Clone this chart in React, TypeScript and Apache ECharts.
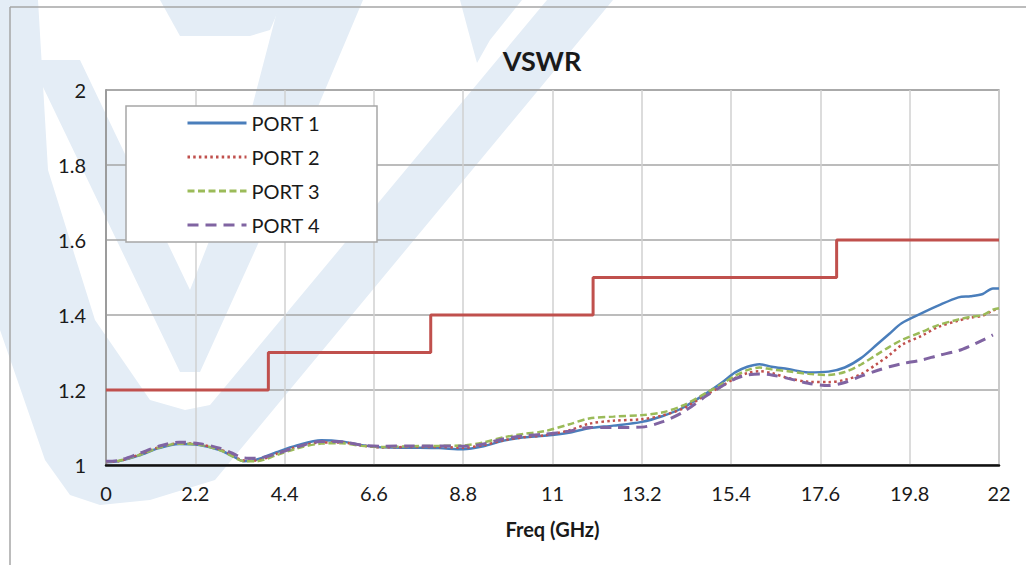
import React, { useEffect, useRef } from "react";
import * as echarts from "echarts";

// Frequency grid (GHz)
const freqs = [0, 0.3, 0.8, 1.3, 1.8, 2.3, 2.8, 3.1, 3.4, 3.7, 4.2, 4.7, 5.3, 5.8, 6.3, 6.8, 7.5, 8.2, 8.8, 9.3, 9.8, 10.3, 10.8, 11.4, 11.9, 12.5, 13.2, 13.7, 14.2, 14.8, 15.2, 15.5, 15.8, 16.1, 16.4, 16.8, 17.3, 17.8, 18.2, 18.6, 19.0, 19.3, 19.6, 20.1, 20.5, 21.0, 21.3, 21.6, 21.85, 22];

const port1 = [1.008, 1.010, 1.025, 1.045, 1.056, 1.053, 1.040, 1.025, 1.010, 1.014, 1.034, 1.052, 1.066, 1.063, 1.053, 1.047, 1.046, 1.045, 1.042, 1.050, 1.065, 1.074, 1.078, 1.086, 1.098, 1.105, 1.115, 1.130, 1.152, 1.192, 1.222, 1.247, 1.262, 1.269, 1.262, 1.256, 1.247, 1.249, 1.260, 1.285, 1.322, 1.350, 1.378, 1.405, 1.425, 1.447, 1.450, 1.456, 1.471, 1.471];
const port2 = [1.008, 1.010, 1.027, 1.047, 1.058, 1.055, 1.042, 1.027, 1.012, 1.012, 1.030, 1.048, 1.060, 1.060, 1.052, 1.047, 1.048, 1.048, 1.046, 1.053, 1.066, 1.074, 1.079, 1.092, 1.110, 1.118, 1.122, 1.132, 1.150, 1.188, 1.212, 1.232, 1.245, 1.250, 1.245, 1.232, 1.222, 1.221, 1.227, 1.242, 1.270, 1.293, 1.320, 1.345, 1.368, 1.385, 1.393, 1.398, 1.412, 1.417];
const port3 = [1.009, 1.011, 1.026, 1.046, 1.057, 1.054, 1.040, 1.024, 1.010, 1.010, 1.026, 1.044, 1.057, 1.058, 1.051, 1.048, 1.050, 1.051, 1.052, 1.060, 1.074, 1.083, 1.090, 1.108, 1.124, 1.129, 1.133, 1.140, 1.158, 1.193, 1.218, 1.238, 1.253, 1.260, 1.255, 1.250, 1.243, 1.240, 1.248, 1.268, 1.295, 1.315, 1.333, 1.355, 1.373, 1.388, 1.395, 1.400, 1.414, 1.418];
const port4 = [1.010, 1.012, 1.030, 1.050, 1.061, 1.057, 1.045, 1.032, 1.019, 1.018, 1.030, 1.048, 1.063, 1.062, 1.053, 1.050, 1.051, 1.051, 1.050, 1.056, 1.070, 1.078, 1.082, 1.090, 1.100, 1.100, 1.101, 1.115, 1.140, 1.185, 1.212, 1.230, 1.240, 1.243, 1.240, 1.231, 1.218, 1.212, 1.220, 1.237, 1.252, 1.262, 1.270, 1.280, 1.292, 1.305, 1.318, 1.333, 1.347, null];

// Specification limit (step)
const limitFreqs = [0, 4, 8, 12, 18, 22];
const limitValues = [1.2, 1.3, 1.4, 1.5, 1.6, 1.6];

const seriesNames = ["PORT 1", "PORT 2", "PORT 3", "PORT 4"];
const xTicks = { min: 0, max: 22, step: 2.2 };
const yTicks = { min: 1, max: 2, step: 0.2 };

const FONT = "Lato, 'Open Sans', sans-serif";

function pairs(xs: number[], ys: (number | null)[]) {
  return xs.map((x, i) => [x, ys[i]]);
}

export default function App() {
  const ref = useRef<HTMLDivElement>(null);
  useEffect(() => {
    if (!ref.current) return;
    const chart = echarts.init(ref.current, undefined, { renderer: "svg" });
    const fmt = (v: number) => String(+v.toFixed(1));
    const wm = "#E4EDF6";
    const wmPoly = (points: number[][]) => ({
      type: "polygon",
      z: -1,
      silent: true,
      shape: { points },
      style: { fill: wm },
    });
    const option: any = {
      animation: false,
      backgroundColor: "#fff",
      title: {
        text: "VSWR",
        left: 537,
        top: 42,
        textAlign: "center",
        textStyle: { fontFamily: FONT, fontSize: 27, fontWeight: "bold", color: "#1a1a1a" },
      },
      graphic: [
        wmPoly([[0, 0], [38, 0], [48, 170], [95, 320], [150, 400], [185, 410], [210, 405], [547, 0], [613, 0], [215, 480], [150, 500], [100, 505], [70, 495], [45, 460], [0, 330]]),
        wmPoly([[30, 60], [80, 60], [190, 290], [233, 180], [280, 0], [363, 0], [287, 180], [200, 372], [180, 372]]),
        wmPoly([[160, 0], [283, 0], [270, 30], [250, 36], [180, 36]]),
        wmPoly([[460, 0], [522, 0], [490, 40], [477, 63], [468, 30]]),
        {
          type: "line",
          z: 1,
          silent: true,
          shape: { x1: 10, y1: 7, x2: 1026, y2: 7 },
          style: { stroke: "#A6A6A6", lineWidth: 1.5 },
        },
        {
          type: "line",
          z: 1,
          silent: true,
          shape: { x1: 10, y1: 7, x2: 10, y2: 565 },
          style: { stroke: "#A6A6A6", lineWidth: 1.5 },
        },
        {
          type: "rect",
          z: 3,
          silent: true,
          shape: { x: 126, y: 106, width: 251, height: 136 },
          style: { fill: "#fff", stroke: "#A6A6A6", lineWidth: 1.5 },
        },
      ],
      legend: {
        data: seriesNames,
        orient: "vertical",
        left: 126,
        top: 106,
        padding: [7, 0, 7, 60],
        itemWidth: 59,
        itemHeight: 14,
        itemGap: 14,
        z: 5,
        itemStyle: { opacity: 0 },
        lineStyle: { width: 3 },
        textStyle: { fontFamily: FONT, fontSize: 20, lineHeight: 20, color: "#1a1a1a" },
      },
      grid: {
        left: 106,
        right: 27,
        top: 90,
        bottom: 100,
        show: true,
        borderColor: "#A0A0A0",
        borderWidth: 1.5,
        backgroundColor: "transparent",
      },
      xAxis: {
        type: "value",
        min: xTicks.min,
        max: xTicks.max,
        interval: xTicks.step,
        name: "Freq (GHz)",
        nameLocation: "middle",
        nameGap: 54,
        nameTextStyle: { fontFamily: FONT, fontSize: 20, fontWeight: "bold", color: "#1a1a1a" },
        axisLine: { show: true, onZero: false, lineStyle: { color: "#111", width: 2.5 } },
        axisTick: { show: false },
        axisLabel: { formatter: fmt, fontFamily: FONT, fontSize: 20, color: "#1a1a1a", margin: 18 },
        splitLine: { show: true, lineStyle: { color: "#D0D0D0", width: 1.5 } },
      },
      yAxis: {
        type: "value",
        min: yTicks.min,
        max: yTicks.max,
        interval: yTicks.step,
        axisLine: { show: true, lineStyle: { color: "#8C8C8C", width: 1.5 } },
        axisTick: { show: false },
        axisLabel: { formatter: fmt, fontFamily: FONT, fontSize: 20, color: "#1a1a1a", margin: 20 },
        splitLine: { show: true, lineStyle: { color: "#A6A6A6", width: 1.5 } },
      },
      series: [
        {
          name: "Limit",
          type: "line",
          step: "end",
          symbol: "none",
          data: pairs(limitFreqs, limitValues),
          lineStyle: { color: "#C0504D", width: 3 },
          itemStyle: { color: "#C0504D" },
          z: 2,
        },
        {
          name: seriesNames[0],
          type: "line",
          symbol: "none",
          smooth: 0.3,
          data: pairs(freqs, port1),
          lineStyle: { color: "#4A7EBB", width: 2.5 },
          itemStyle: { color: "#4A7EBB" },
        },
        {
          name: seriesNames[1],
          type: "line",
          symbol: "none",
          smooth: 0.3,
          data: pairs(freqs, port2),
          lineStyle: { color: "#C0504D", width: 2.5, type: [2.5, 3.2] },
          itemStyle: { color: "#C0504D" },
        },
        {
          name: seriesNames[2],
          type: "line",
          symbol: "none",
          smooth: 0.3,
          data: pairs(freqs, port3),
          lineStyle: { color: "#9BBB59", width: 2.5, type: [7, 3.5] },
          itemStyle: { color: "#9BBB59" },
        },
        {
          name: seriesNames[3],
          type: "line",
          symbol: "none",
          smooth: 0.3,
          connectNulls: false,
          data: pairs(freqs, port4),
          lineStyle: { color: "#8064A2", width: 3, type: [11, 7] },
          itemStyle: { color: "#8064A2" },
        },
      ],
    };
    chart.setOption(option);
    return () => chart.dispose();
  }, []);
  return (
    <div
      ref={ref}
      style={{ position: "fixed", left: 0, top: 0, width: 1026, height: 565 }}
    />
  );
}
